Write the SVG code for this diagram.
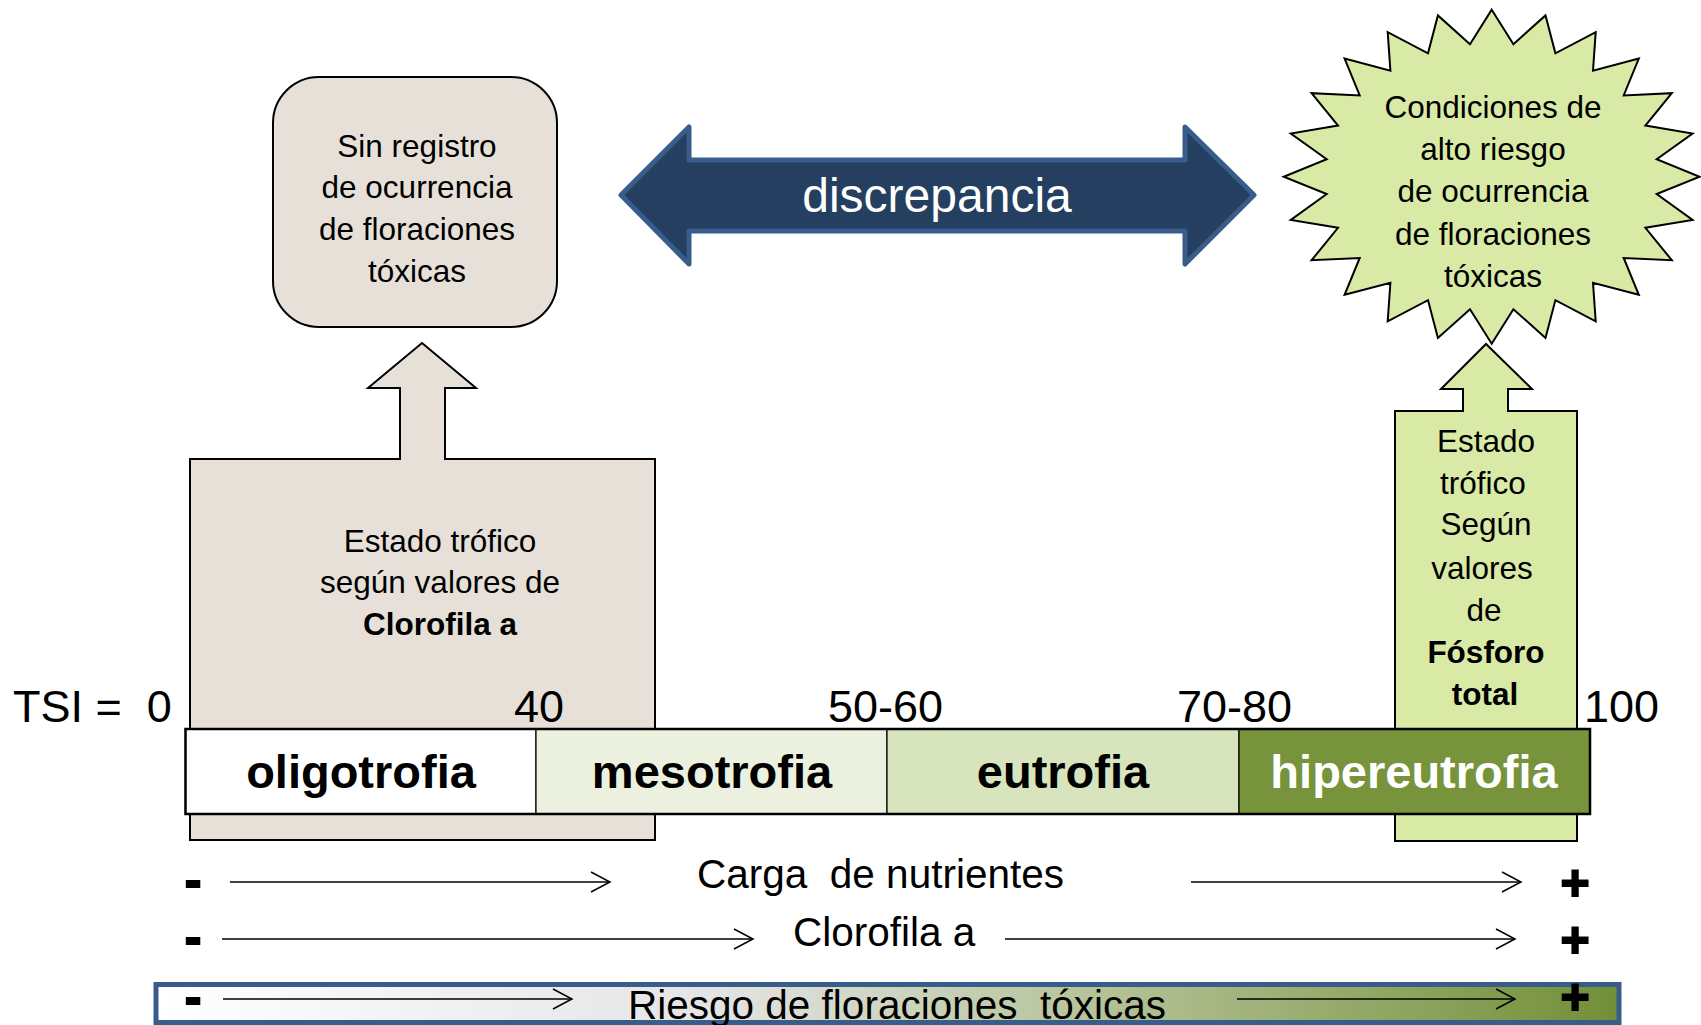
<svg xmlns="http://www.w3.org/2000/svg" width="1701" height="1025" viewBox="0 0 1701 1025">
<style>
.t{font-family:"Liberation Sans",Arial,sans-serif;fill:#000}
.c{text-anchor:middle}
.lbl{font-size:31.5px}
.num{font-size:45px}
.bar{font-size:47px;font-weight:bold}
.row{font-size:40.5px}
.sgn{font-size:50px;font-weight:bold;text-anchor:middle;stroke:#000;stroke-width:1.8}
.ln{stroke:#000;stroke-width:1.5;fill:none}
.seg{stroke:#000;stroke-width:1.2}
</style>
<defs>
<marker id="ah" markerUnits="userSpaceOnUse" markerWidth="24" markerHeight="24" refX="20" refY="11" orient="auto">
<path d="M1,1 L20,11 L1,21" fill="none" stroke="#000" stroke-width="1.5"/>
</marker>
<linearGradient id="risk" x1="0" y1="0" x2="1" y2="0">
<stop offset="0" stop-color="#FFFFFF"/>
<stop offset="0.38" stop-color="#E4E4E4"/>
<stop offset="0.62" stop-color="#B9C69E"/>
<stop offset="1" stop-color="#728F37"/>
</linearGradient>
</defs>

<g id="chl-callout">
<path d="M190,459 H400 V388 H368 L422,343 L476,388 H445 V459 H655 V840 H190 Z" fill="#E7E0D9" stroke="#000" stroke-width="2"/>
<text class="t c lbl" x="440" y="552">Estado trófico</text>
<text class="t c lbl" x="440" y="593">según valores de</text>
<text class="t c lbl" x="440" y="635" font-weight="bold">Clorofila a</text>
</g>

<g id="pt-callout">
<path d="M1395,411 H1463 V389 H1441 L1486,344 L1532,389 H1508 V411 H1577 V841 H1395 Z" fill="#D9EAA6" stroke="#000" stroke-width="2"/>
<text class="t c lbl" x="1486" y="452">Estado</text>
<text class="t c lbl" x="1483" y="494">trófico</text>
<text class="t c lbl" x="1486" y="535">Según</text>
<text class="t c lbl" x="1482" y="579">valores</text>
<text class="t c lbl" x="1484" y="621">de</text>
<text class="t c lbl" x="1486" y="663" font-weight="bold">Fósforo</text>
<text class="t c lbl" x="1485" y="705" font-weight="bold">total</text>
</g>

<g id="no-record">
<rect x="273" y="77" width="284" height="250" rx="46" ry="46" fill="#E7E0D9" stroke="#000" stroke-width="2"/>
<text class="t c lbl" x="417" y="157">Sin registro</text>
<text class="t c lbl" x="417" y="198">de ocurrencia</text>
<text class="t c lbl" x="417" y="240">de floraciones</text>
<text class="t c lbl" x="417" y="282">tóxicas</text>
</g>

<g id="discrepancia">
<path d="M621,195 L689,127 V160 H1185 V127 L1254,195 L1185,264 V231 H689 V264 Z" fill="#243F60" stroke="#385D8A" stroke-width="5" stroke-linejoin="round"/>
<text class="t c" x="937" y="212" font-size="48" style="fill:#fff">discrepancia</text>
</g>

<g id="high-risk">
<polygon fill="#D9EAA6" stroke="#000" stroke-width="2" stroke-linejoin="miter" points="1491.7,9.7 1513.4,44.2 1545.5,15.4 1555.4,53.3 1595.7,32.1 1593.0,70.7 1638.8,58.6 1623.7,95.4 1671.8,93.2 1645.4,125.6 1692.6,133.5 1656.7,159.3 1699.7,176.7 1656.7,194.1 1692.6,219.9 1645.4,227.8 1671.8,260.2 1623.7,258.0 1638.8,294.8 1593.0,282.7 1595.7,321.3 1555.4,300.1 1545.5,338.0 1513.4,309.2 1491.7,343.7 1470.0,309.2 1437.9,338.0 1428.0,300.1 1387.7,321.3 1390.4,282.7 1344.6,294.8 1359.7,258.0 1311.6,260.2 1338.0,227.8 1290.8,219.9 1326.7,194.1 1283.7,176.7 1326.7,159.3 1290.8,133.5 1338.0,125.6 1311.6,93.2 1359.7,95.4 1344.6,58.6 1390.4,70.7 1387.7,32.1 1428.0,53.3 1437.9,15.4 1470.0,44.2"/>
<text class="t c lbl" x="1493" y="118">Condiciones de</text>
<text class="t c lbl" x="1493" y="160">alto riesgo</text>
<text class="t c lbl" x="1493" y="202">de ocurrencia</text>
<text class="t c lbl" x="1493" y="245">de floraciones</text>
<text class="t c lbl" x="1493" y="287">tóxicas</text>
</g>

<g id="tsi-scale">
<rect x="185.5" y="729" width="350.5" height="85" fill="#FFFFFF" class="seg"/>
<rect x="536" y="729" width="351" height="85" fill="#EBF1DE" class="seg"/>
<rect x="887" y="729" width="352" height="85" fill="#D7E4BD" class="seg"/>
<rect x="1239" y="729" width="351" height="85" fill="#77933C" class="seg"/>
<rect x="185.5" y="729" width="1404.5" height="85" fill="none" stroke="#000" stroke-width="2.5"/>
<text class="t c bar" x="361" y="788">oligotrofia</text>
<text class="t c bar" x="712" y="788">mesotrofia</text>
<text class="t c bar" x="1063" y="788">eutrofia</text>
<text class="t c bar" x="1414" y="788" style="fill:#fff">hipereutrofia</text>
<text class="t num" x="13" y="722" xml:space="preserve">TSI =  0</text>
<text class="t num" x="514" y="722">40</text>
<text class="t num" x="828" y="722">50-60</text>
<text class="t num" x="1177" y="722">70-80</text>
<text class="t num" x="1584" y="722">100</text>
</g>

<g id="risk-band">
<rect x="156" y="984.5" width="1463" height="38" fill="url(#risk)" stroke="#385D8A" stroke-width="5"/>
</g>

<g id="connectors">
<line class="ln" x1="230" y1="882" x2="610" y2="882" marker-end="url(#ah)"/>
<line class="ln" x1="1191" y1="882" x2="1521" y2="882" marker-end="url(#ah)"/>
<line class="ln" x1="222" y1="939" x2="753" y2="939" marker-end="url(#ah)"/>
<line class="ln" x1="1005" y1="939" x2="1515" y2="939" marker-end="url(#ah)"/>
<line class="ln" x1="223" y1="999" x2="572" y2="999" marker-end="url(#ah)"/>
<line class="ln" x1="1237" y1="999" x2="1515" y2="999" marker-end="url(#ah)"/>
</g>

<g id="gradients-labels">
<text class="t sgn" x="193" y="897">-</text>
<text class="t sgn" x="193" y="954">-</text>
<text class="t sgn" x="193" y="1014">-</text>
<text class="t sgn" x="1575" y="900">+</text>
<text class="t sgn" x="1575" y="957">+</text>
<text class="t sgn" x="1575" y="1014">+</text>
<text class="t row" x="697" y="888" xml:space="preserve">Carga  de nutrientes</text>
<text class="t row" x="793" y="946">Clorofila a</text>
<text class="t row" x="628" y="1019" xml:space="preserve">Riesgo de floraciones  tóxicas</text>
</g>
</svg>
